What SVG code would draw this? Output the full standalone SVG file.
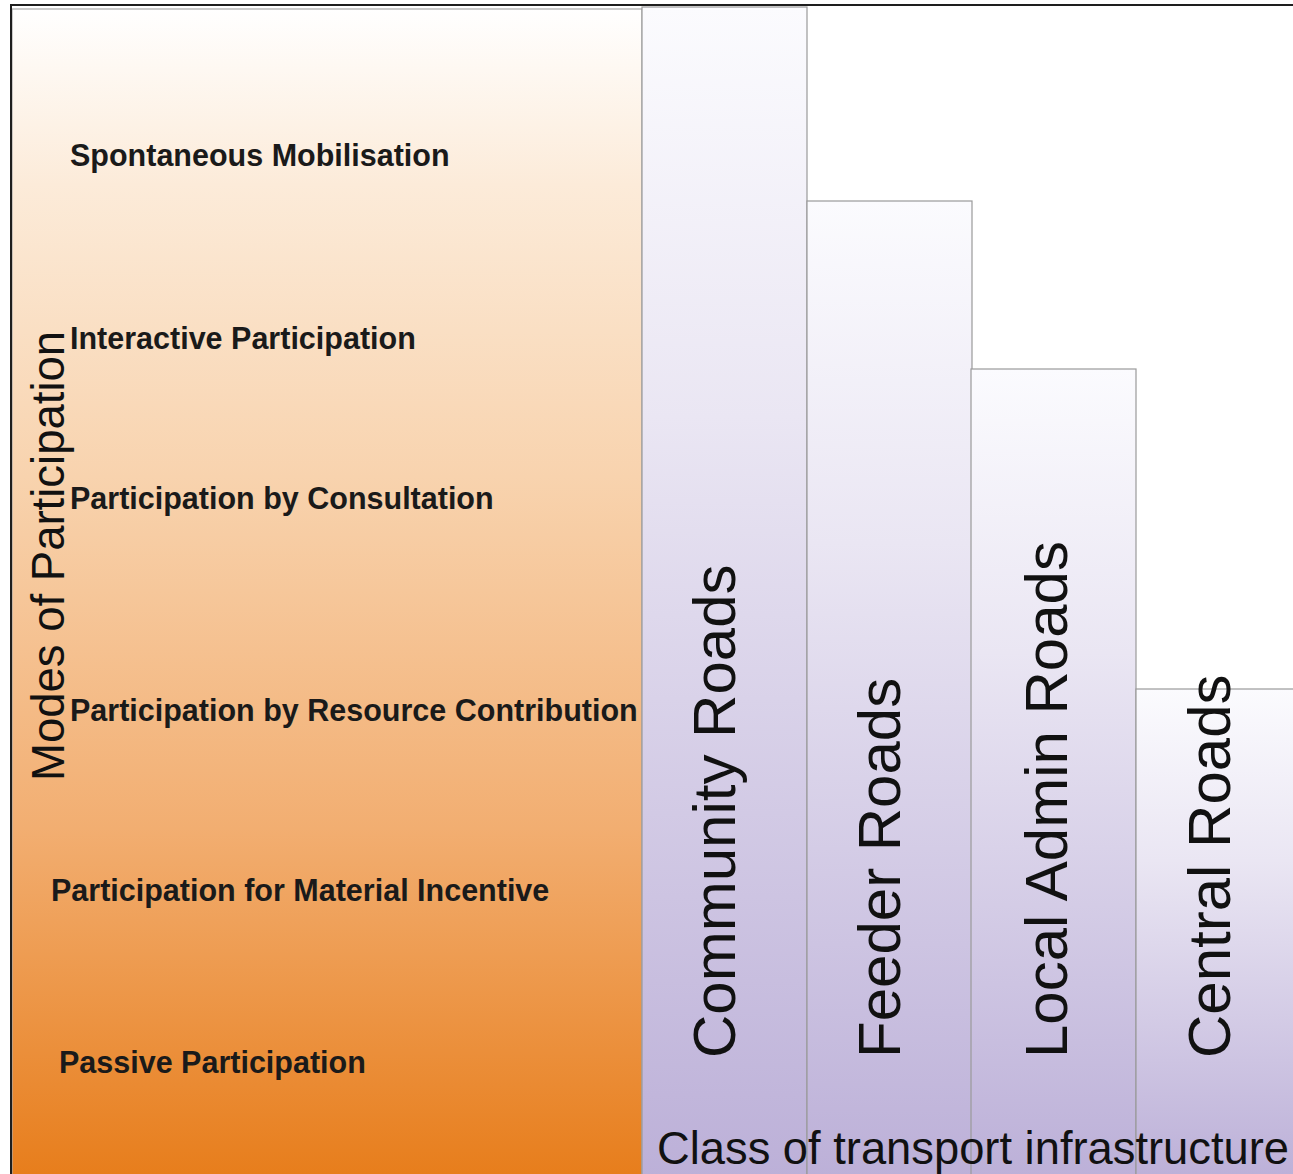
<svg xmlns="http://www.w3.org/2000/svg" width="1293" height="1174" viewBox="0 0 1293 1174">
<defs>
<linearGradient id="orange" x1="0" y1="0" x2="0" y2="1">
<stop offset="0" stop-color="#FFFFFF"/>
<stop offset="0.15" stop-color="#FCEBD9"/>
<stop offset="0.4" stop-color="#F8D3AE"/>
<stop offset="0.7" stop-color="#F2AE71"/>
<stop offset="1" stop-color="#E77D1B"/>
</linearGradient>
<linearGradient id="lav" x1="0" y1="0" x2="0" y2="1">
<stop offset="0" stop-color="#FBFBFE"/>
<stop offset="0.35" stop-color="#EAE6F3"/>
<stop offset="1" stop-color="#BCB0D8"/>
</linearGradient>
<style>
.bar{fill:url(#lav);stroke:#9A9A9A;stroke-width:1.2}
.mode{font-family:"Liberation Sans",Arial,sans-serif;font-weight:bold;font-size:30.5px;fill:#1a1a1a}
.road{font-family:"Liberation Sans",Arial,sans-serif;font-size:60px;fill:#111}
.axis{font-family:"Liberation Sans",Arial,sans-serif;font-size:45.5px;fill:#111}
</style>
</defs>
<rect x="0" y="0" width="1293" height="1174" fill="#FFFFFF"/>
<g id="modes-panel">
<rect x="12" y="9" width="630" height="1170" fill="url(#orange)" stroke="#A8A8A8" stroke-width="1.2"/>
</g>
<g id="community-roads">
<rect class="bar" x="642" y="7" width="165" height="1172"/>
<text class="road" transform="translate(735,1058) rotate(-90)">Community Roads</text>
</g>
<g id="feeder-roads">
<rect class="bar" x="807" y="201" width="165" height="978"/>
<text class="road" transform="translate(900,1058) rotate(-90)">Feeder Roads</text>
</g>
<g id="local-admin-roads">
<rect class="bar" x="971" y="369" width="165" height="810"/>
<text class="road" transform="translate(1067,1058) rotate(-90)">Local Admin Roads</text>
</g>
<g id="central-roads">
<rect class="bar" x="1136" y="689" width="160" height="490"/>
<text class="road" transform="translate(1230,1058) rotate(-90)">Central Roads</text>
</g>
<g id="frame">
<path d="M11,1174 L11,5 L1293,5" fill="none" stroke="#1E1E1E" stroke-width="2"/>
</g>
<g id="mode-labels">
<text class="mode" x="70" y="166">Spontaneous Mobilisation</text>
<text class="mode" x="70" y="349">Interactive Participation</text>
<text class="mode" x="70" y="509">Participation by Consultation</text>
<text class="mode" x="70" y="721">Participation by Resource Contribution</text>
<text class="mode" x="51" y="901">Participation for Material Incentive</text>
<text class="mode" x="59" y="1073">Passive Participation</text>
</g>
<g id="axis-labels">
<text class="axis" transform="translate(64,781) rotate(-90)">Modes of Participation</text>
<text class="axis" x="657" y="1164" textLength="632" lengthAdjust="spacingAndGlyphs">Class of transport infrastructure</text>
</g>
<g id="connectors"></g>
</svg>
